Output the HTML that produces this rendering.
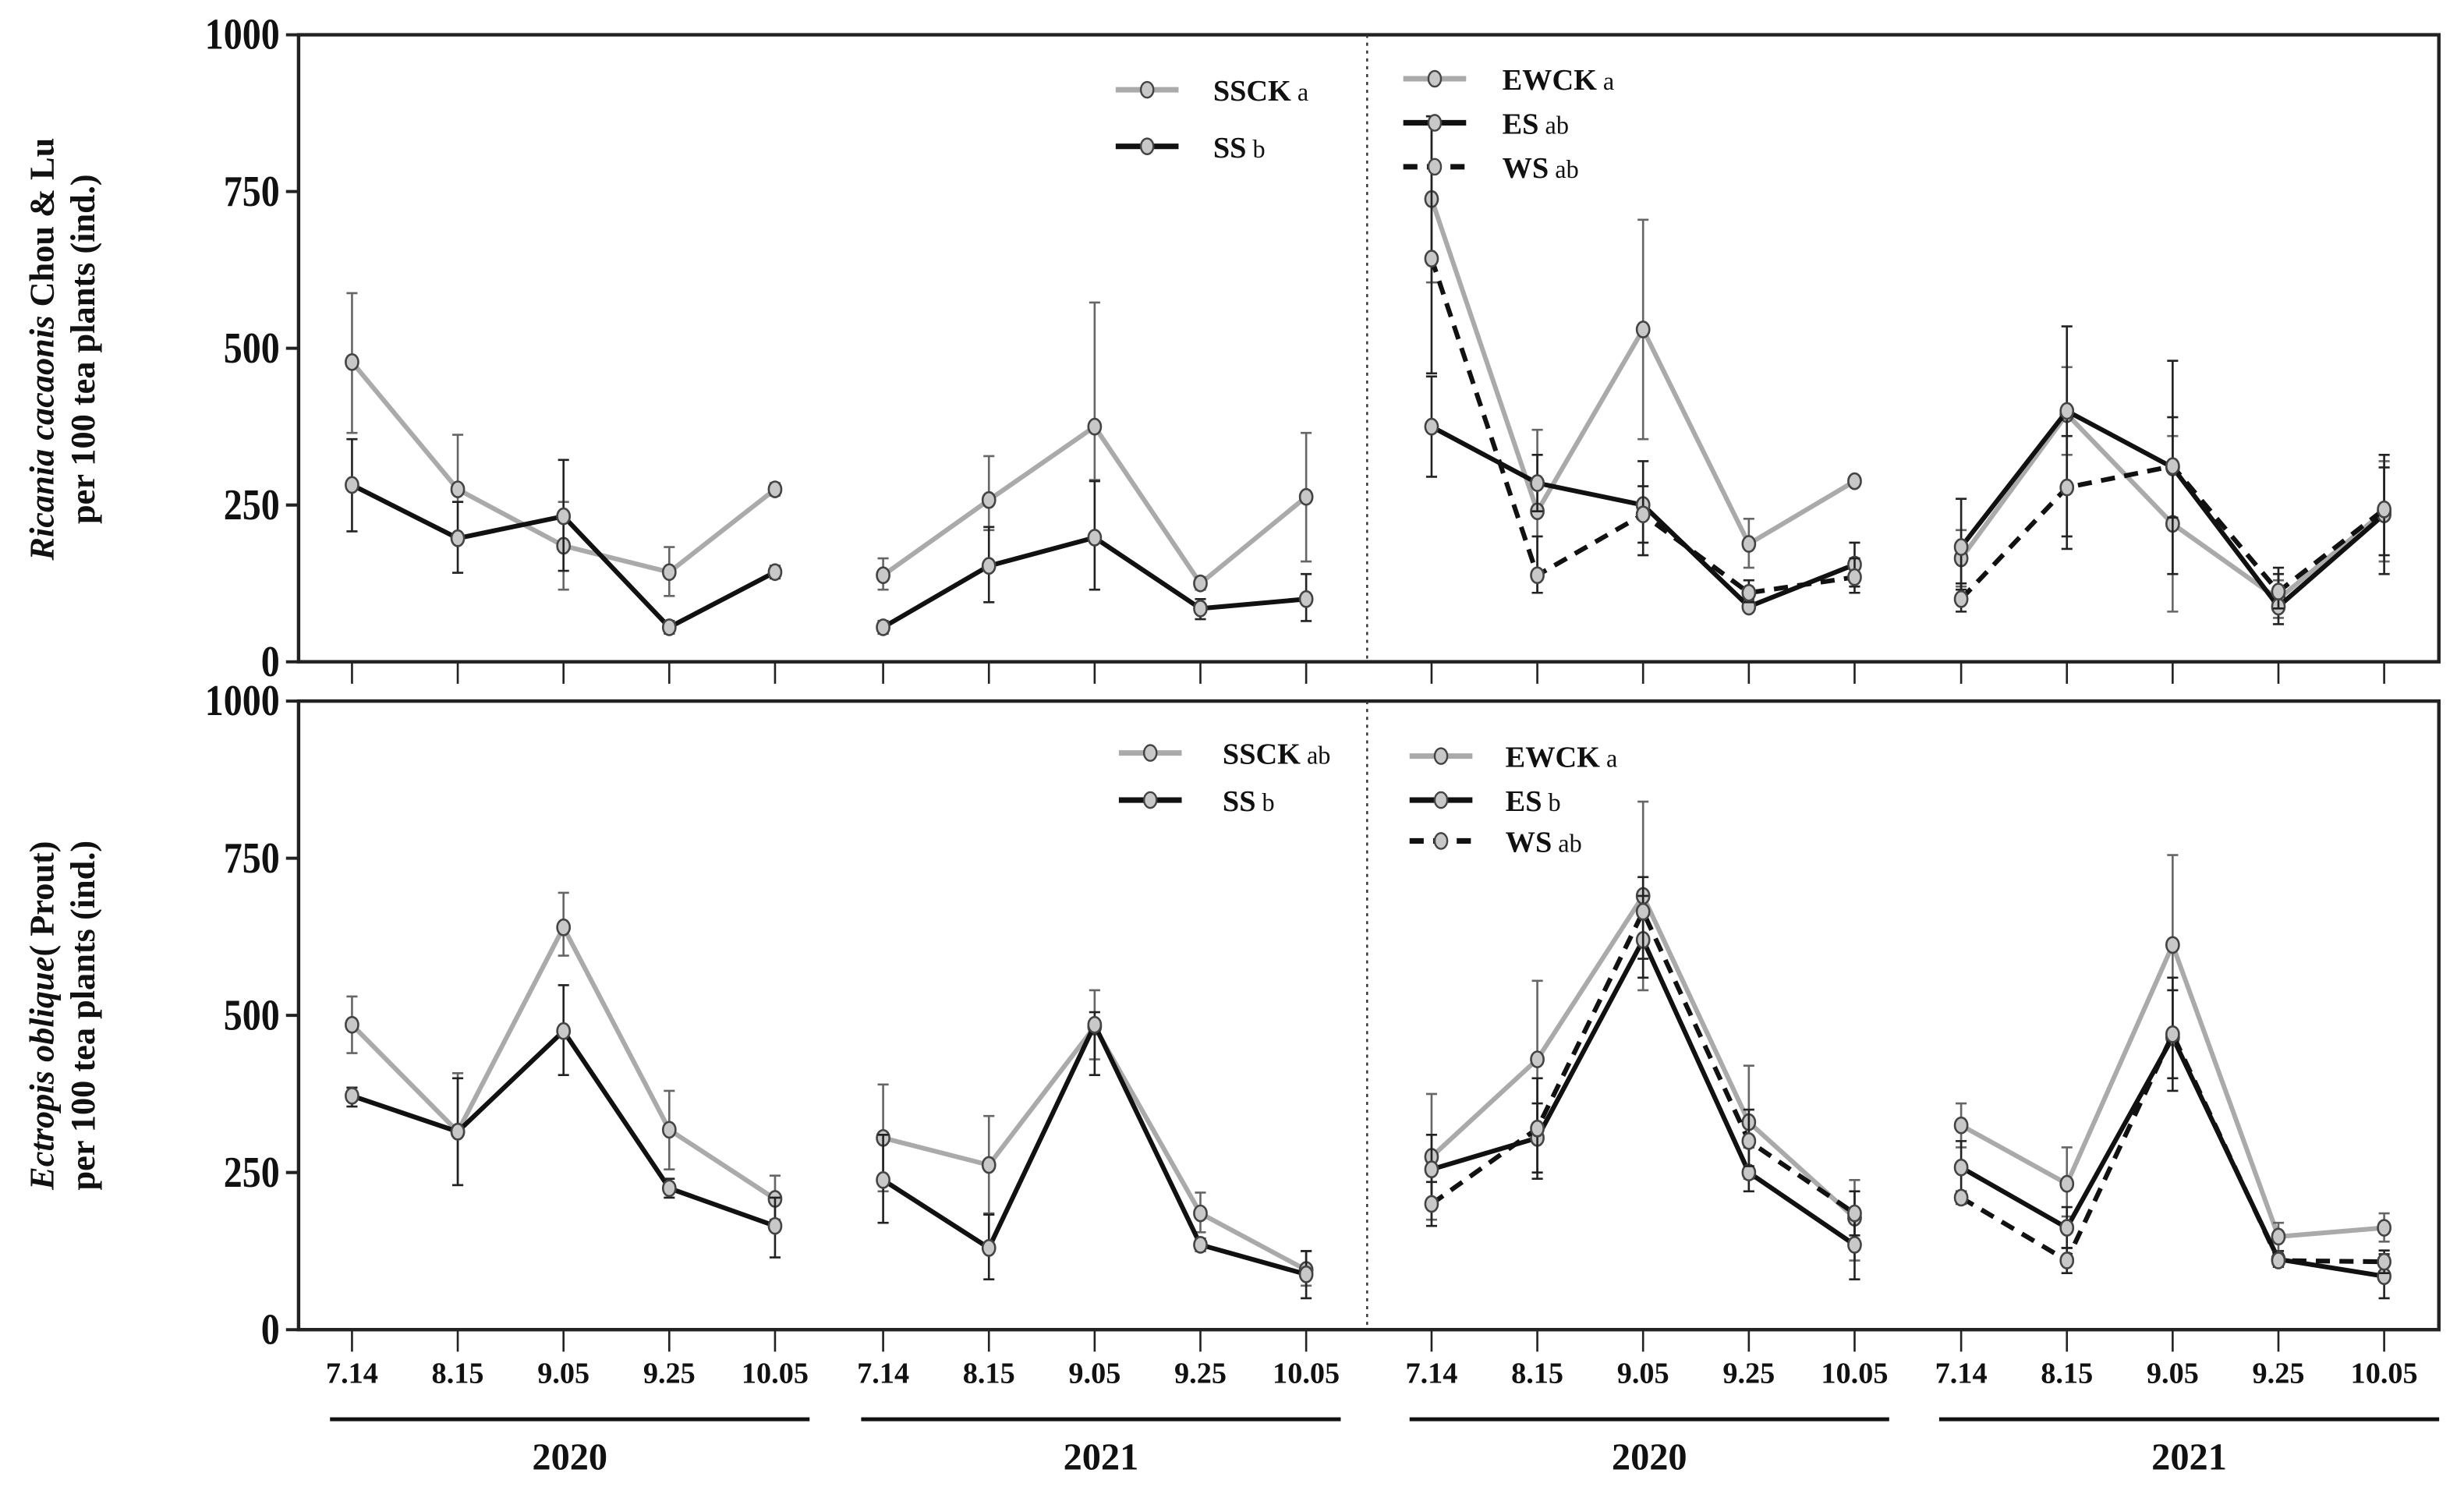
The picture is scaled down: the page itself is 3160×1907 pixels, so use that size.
<!DOCTYPE html>
<html><head><meta charset="utf-8"><style>
html,body{margin:0;padding:0;background:#fff}
svg{display:block}
text{font-family:"Liberation Serif",serif;font-weight:bold;fill:#111}
</style></head><body>
<svg id="chart" width="3160" height="1907" viewBox="0 0 1568 946" xmlns="http://www.w3.org/2000/svg">
<g id="root"></g>
</svg>
<script>
// ---- data ----
const dates = ["7.14","8.15","9.05","9.25","10.05"];
const years = ["2020","2021","2020","2021"];
const yTicks = [0,250,500,750,1000];
const topSSCK = [478,275,185,143,275, 138,258,375,125,263];
const topSSCKlo = [365,255,115,105,265, 115,210,290,115,160];
const topSSCKhi = [588,362,255,183,285, 165,328,573,135,365];
const topSS = [282,197,232,55,143, 55,153,198,85,100];
const topSSlo = [208,142,145,45,133, 45,95,115,68,65];
const topSShi = [355,255,322,65,153, 65,215,288,100,140];
const topEWCK = [738,240,530,188,288, 165,395,220,100,240];
const topEWCKlo = [605,110,355,150,280, 120,330,80,70,160];
const topEWCKhi = [870,370,705,228,296, 210,470,360,130,320];
const topES = [375,285,250,88,155, 183,400,310,88,235];
const topESlo = [295,240,170,80,120, 115,180,140,60,170];
const topEShi = [455,330,320,100,190, 260,535,480,150,310];
const topWS = [643,138,235,110,135, 100,278,312,112,243];
const topWSlo = [460,110,190,95,110, 80,200,230,85,140];
const topWShi = [870,200,280,130,165, 125,360,390,140,330];
const botSSCK = [485,315,640,318,208, 305,262,482,185,95];
const botSSCKlo = [440,230,595,255,175, 220,185,430,155,70];
const botSSCKhi = [530,408,695,380,245, 390,340,540,218,125];
const botSS = [372,315,475,225,165, 238,130,485,135,88];
const botSSlo = [355,230,405,210,115, 170,80,405,125,50];
const botSShi = [385,400,548,240,210, 310,183,505,145,125];
const botEWCK = [275,430,690,330,178, 325,232,612,148,162];
const botEWCKlo = [175,305,540,240,110, 290,180,470,125,140];
const botEWCKhi = [375,555,840,420,238, 360,290,755,170,185];
const botES = [255,305,620,250,135, 258,162,465,112,85];
const botESlo = [200,250,560,220,80, 220,130,380,100,50];
const botEShi = [310,360,690,290,180, 300,195,560,125,120];
const botWS = [200,320,665,300,185, 210,110,470,110,108];
const botWSlo = [165,240,590,260,150, 200,90,400,100,90];
const botWShi = [235,400,720,350,220, 220,130,540,120,126];

// ---- layout ----
const NS="http://www.w3.org/2000/svg";
const root=document.getElementById('root');
function el(tag,attrs,parent){const e=document.createElementNS(NS,tag);for(const k in attrs)e.setAttribute(k,attrs[k]);(parent||root).appendChild(e);return e;}
const groupStart=[224,562,911,1248], step=67.3;
function xPos(side,i){const g=side*2+Math.floor(i/5);return groupStart[g]+(i%5)*step;}
const panels=[{top:22,bot:421},{top:446,bot:846}];
function yScale(p,v){return p.bot-(v/1000)*(p.bot-p.top);}

function drawSeries(p,side,vals,lo,hi,color,width,dash,name){
  const g=el('g',{});
  
  
  for(let yr=0;yr<2;yr++){
    let d='';
    for(let j=0;j<5;j++){const i=yr*5+j;d+=(j?'L':'M')+xPos(side,i)+','+yScale(p,vals[i]);}
    const pl=el('path',{d:d,fill:'none',stroke:color,'stroke-width':width,'stroke-dasharray':dash||'none'},g);
    
    
  }
  for(let i=0;i<10;i++){
    const x=xPos(side,i),ya=yScale(p,lo[i]),yb=yScale(p,hi[i]);
    const eb=el('path',{d:`M${x},${ya}V${yb}M${x-3.5},${ya}H${x+3.5}M${x-3.5},${yb}H${x+3.5}`,stroke:color==='#aaa'?'#666':'#222','stroke-width':1.3,fill:'none'},g);
    
    
    const c=el('ellipse',{cx:x,cy:yScale(p,vals[i]),rx:4,ry:5,fill:'#c8c8c8',stroke:'#444','stroke-width':1.3},g);
    
    
  }
}

panels.forEach((p,pi)=>{
  const frame=el('rect',{x:190,y:p.top,width:1362,height:p.bot-p.top,fill:'none',stroke:'#222','stroke-width':2.2});
  
  
  const dl=el('line',{x1:870,x2:870,y1:p.top,y2:p.bot,stroke:'#333','stroke-width':1.2,'stroke-dasharray':'2,3'});
  
  
  yTicks.forEach(v=>{
    const y=yScale(p,v);
    const t=el('line',{x1:182,x2:190,y1:y,y2:y,stroke:'#222','stroke-width':2});
    
    
    const tx=el('text',{transform:`translate(178,${y+9}) scale(0.85,1)`,'text-anchor':'end','font-size':28});
    tx.textContent=v;
    
    
  });
  for(let side=0;side<2;side++)for(let i=0;i<10;i++){
    const x=xPos(side,i);
    const t=el('line',{x1:x,x2:x,y1:p.bot,y2:p.bot+14,stroke:'#222','stroke-width':1.3});
    
    
  }
});

const t1=el('text',{transform:'translate(34,222) rotate(-90)','text-anchor':'middle','font-size':22});
t1.innerHTML='<tspan font-style="italic">Ricania cacaonis</tspan> Chou &amp; Lu';


const t1b=el('text',{transform:'translate(60,222) rotate(-90)','text-anchor':'middle','font-size':22});
t1b.textContent='per 100 tea plants (ind.)';


const t2=el('text',{transform:'translate(34,646) rotate(-90)','text-anchor':'middle','font-size':22});
t2.innerHTML='<tspan font-style="italic">Ectropis oblique</tspan>( Prout)';


const t2b=el('text',{transform:'translate(60,646) rotate(-90)','text-anchor':'middle','font-size':22});
t2b.textContent='per 100 tea plants (ind.)';



for(let side=0;side<2;side++)for(let i=0;i<10;i++){
  const tx=el('text',{x:xPos(side,i),y:880,'text-anchor':'middle','font-size':19});
  tx.textContent=dates[i%5];
  
  
}
years.forEach((yr,g)=>{
  const x0=groupStart[g]-14,x1=groupStart[g]+4*step+22+(g===3?13:0);
  const l=el('line',{x1:x0,x2:x1,y1:903,y2:903,stroke:'#111','stroke-width':2.5});
  
  
  const tx=el('text',{x:(x0+x1)/2,y:935,'text-anchor':'middle','font-size':24});
  tx.textContent=yr;
  
  
});

const P0=panels[0],P1=panels[1];
drawSeries(P0,0,topSSCK,topSSCKlo,topSSCKhi,'#aaa',3,null,'top-ssck');
drawSeries(P0,0,topSS,topSSlo,topSShi,'#111',3,null,'top-ss');
drawSeries(P0,1,topEWCK,topEWCKlo,topEWCKhi,'#aaa',3,null,'top-ewck');
drawSeries(P0,1,topES,topESlo,topEShi,'#111',3,null,'top-es');
drawSeries(P0,1,topWS,topWSlo,topWShi,'#111',3,'9,6','top-ws');
drawSeries(P1,0,botSSCK,botSSCKlo,botSSCKhi,'#aaa',3,null,'bottom-ssck');
drawSeries(P1,0,botSS,botSSlo,botSShi,'#111',3,null,'bottom-ss');
drawSeries(P1,1,botEWCK,botEWCKlo,botEWCKhi,'#aaa',3,null,'bottom-ewck');
drawSeries(P1,1,botES,botESlo,botEShi,'#111',3,null,'bottom-es');
drawSeries(P1,1,botWS,botWSlo,botWShi,'#111',3,'9,6','bottom-ws');

function legend(x,y,color,dash,label,sub,tx){
  const g=el('g',{});
  
  
  el('line',{x1:x,x2:x+40,y1:y,y2:y,stroke:color,'stroke-width':3.5,'stroke-dasharray':dash||'none'},g);
  el('ellipse',{cx:x+20,cy:y,rx:4,ry:5,fill:'#c8c8c8',stroke:'#444','stroke-width':1.2},g);
  const t=el('text',{x:tx,y:y+7,'font-size':19},g);
  t.innerHTML=label+'<tspan font-weight="normal" font-size="16"> '+sub+'</tspan>';
}
legend(710,57,'#aaa',null,'SSCK','a',772);
legend(710,93,'#111',null,'SS','b',772);
legend(893,50,'#aaa',null,'EWCK','a',956);
legend(893,78,'#111',null,'ES','ab',956);
legend(893,106,'#111','9,6','WS','ab',956);
legend(712,479,'#aaa',null,'SSCK','ab',778);
legend(712,509,'#111',null,'SS','b',778);
legend(897,481,'#aaa',null,'EWCK','a',958);
legend(897,509,'#111',null,'ES','b',958);
legend(897,535,'#111','9,6','WS','ab',958);
</script>
</body></html>
